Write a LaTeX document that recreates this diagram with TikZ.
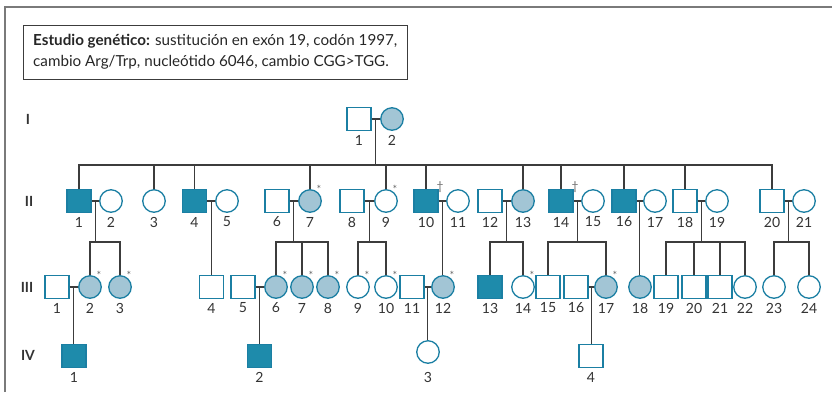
\documentclass[tikz,border=0pt]{standalone}
\usepackage{fontspec}
\setmainfont{Lato}
\usetikzlibrary{calc}
\definecolor{symc}{HTML}{1B7FA3}
\definecolor{affc}{HTML}{1E8BAB}
\definecolor{carc}{HTML}{A2C5D5}
\definecolor{linec}{HTML}{3C3C3C}
\definecolor{numc}{HTML}{333333}
\definecolor{framec}{HTML}{7A7A7A}
\tikzset{
  sym/.style={draw=symc, line width=1.3pt, inner sep=0pt, fill=white},
  msym/.style={sym, rectangle, minimum width=24pt, minimum height=23pt},
  fsym/.style={sym, circle, minimum size=22.5pt},
  aff/.style={fill=affc},
  car/.style={fill=carc},
  num/.style={font=\fontsize{14}{14}\selectfont, text=numc, inner sep=0pt},
  gen/.style={font=\fontsize{14}{14}\selectfont\bfseries, text=numc, inner sep=0pt},
  ast/.style={font=\fontsize{11}{11}\selectfont, text=black!60, inner sep=0pt},
  dag/.style={font=\fontsize{12}{12}\selectfont, text=black!60, inner sep=0pt},
  ln/.style={draw=linec, line width=1.2pt},
}
\newcommand\Mper[5]{\node[msym,#2] (#1) at (#3,#4) {}; \node[num] (#1n) at (#3,#4+21) {#5};}
\newcommand\Fper[5]{\node[fsym,#2] (#1) at (#3,#4) {}; \node[num] (#1n) at (#3,#4+21) {#5};}
\newcommand\Ast[1]{\node[ast] (#1a) at ($(#1.center)+(9,-12)$) {*};}
\newcommand\Dag[1]{\node[dag] (#1d) at ($(#1.center)+(14,-14)$) {\textdagger};}
\newcommand\Mar[3]{\draw[ln] (#2.east) -- (#3.west); \coordinate (#1) at ($(#2.east)!0.5!(#3.west)$);}
\begin{document}
\begin{tikzpicture}[x=1pt,y=-1pt]
\useasboundingbox (0,0) rectangle (832,392);
% frame
\coordinate (fa) at (5,392);
\coordinate (fb) at (5,7);
\coordinate (fc) at (833,7);
\draw[draw=framec, line width=1.5pt] (fa) -- (fb) -- (fc);
% header
\node[draw=linec, line width=1.2pt, minimum width=384pt, minimum height=54pt, anchor=north west, inner sep=0pt] (hdr) at (23,25) {};
\node[anchor=west, align=left, inner sep=0pt, font=\fontsize{15.2}{21}\selectfont, text=black!85] (hdrtxt) at (33,52)
  {\textbf{Estudio genético:} sustitución en exón 19, codón 1997,\\cambio Arg/Trp, nucleótido 6046, cambio CGG>TGG.};
% generation labels
\node[gen] (gI) at (28,119) {I};
\node[gen] (gII) at (29,201) {II};
\node[gen] (gIII) at (27,287) {III};
\node[gen] (gIV) at (28,355) {IV};
% Generation I
\Mper{I1}{}{359}{119}{1}
\Fper{I2}{car}{392}{119}{2}
% Generation II
\Mper{II1}{aff}{79}{201}{1}
\Fper{II2}{}{111}{201}{2}
\Fper{II3}{}{154}{201}{3}
\Mper{II4}{aff}{194.5}{201}{4}
\Fper{II5}{}{227}{201}{5}
\Mper{II6}{}{277}{201}{6}
\Fper{II7}{car}{310}{201}{7}
\Mper{II8}{}{352}{201}{8}
\Fper{II9}{}{386}{201}{9}
\Mper{II10}{aff}{426}{201}{10}
\Fper{II11}{}{458}{201}{11}
\Mper{II12}{}{490}{201}{12}
\Fper{II13}{car}{523}{201}{13}
\Mper{II14}{aff}{561}{201}{14}
\Fper{II15}{}{593}{201}{15}
\Mper{II16}{aff}{624}{201}{16}
\Fper{II17}{}{655}{201}{17}
\Mper{II18}{}{685}{201}{18}
\Fper{II19}{}{717}{201}{19}
\Mper{II20}{}{772}{201}{20}
\Fper{II21}{}{804}{201}{21}
\Ast{II7}\Ast{II9}\Dag{II10}\Dag{II14}
% Generation III
\Mper{III1}{}{57}{287}{1}
\Fper{III2}{car}{90}{287}{2}
\Fper{III3}{car}{120}{287}{3}
\Mper{III4}{}{211.5}{287}{4}
\Mper{III5}{}{243}{287}{5}
\Fper{III6}{car}{276}{287}{6}
\Fper{III7}{car}{302}{287}{7}
\Fper{III8}{car}{328}{287}{8}
\Fper{III9}{}{358}{287}{9}
\Fper{III10}{}{386}{287}{10}
\Mper{III11}{}{412}{287}{11}
\Fper{III12}{car}{443}{287}{12}
\Mper{III13}{aff}{490}{287}{13}
\Fper{III14}{}{523}{287}{14}
\Mper{III15}{}{548}{287}{15}
\Mper{III16}{}{576}{287}{16}
\Fper{III17}{car}{606}{287}{17}
\Fper{III18}{car}{640}{287}{18}
\Mper{III19}{}{666}{287}{19}
\Mper{III20}{}{694}{287}{20}
\Mper{III21}{}{720}{287}{21}
\Fper{III22}{}{745}{287}{22}
\Fper{III23}{}{774}{287}{23}
\Fper{III24}{}{809}{287}{24}
\Ast{III2}\Ast{III3}\Ast{III6}\Ast{III7}\Ast{III8}\Ast{III9}\Ast{III10}\Ast{III12}\Ast{III14}\Ast{III17}
% Generation IV
\Mper{IV1}{aff}{74}{356}{1}
\Mper{IV2}{aff}{259.5}{356}{2}
\node[fsym] (IV3) at (428,352) {};
\node[num] (IV3n) at (428,377) {3};
\Mper{IV4}{}{591}{356}{4}
% sibship levels
\coordinate (sII) at (0,165);
\coordinate (sIII) at (0,242);
% Gen I couple and children
\Mar{mI}{I1}{I2}
\draw[ln] (mI) -- (mI |- sII);
\draw[ln] (II1.north) |- (II20.north |- sII) -- (II20.north);
\foreach \n in {II3,II4,II7,II9,II10,II13,II14,II16,II18}
  \draw[ln] (\n.north) -- (\n.north |- sII);
% Gen II couples
\Mar{m12}{II1}{II2}
\Mar{m45}{II4}{II5}
\Mar{m67}{II6}{II7}
\Mar{m89}{II8}{II9}
\Mar{m1011}{II10}{II11}
\Mar{m1213}{II12}{II13}
\Mar{m1415}{II14}{II15}
\Mar{m1617}{II16}{II17}
\Mar{m1819}{II18}{II19}
\Mar{m2021}{II20}{II21}
% descents to gen III
\draw[ln] (m12) -- (m12 |- sIII);
\draw[ln] (III2.north) |- (III3.north |- sIII) -- (III3.north);
\draw[ln] (m45) -- (m45 |- III4.north);
\draw[ln] (m67) -- (m67 |- sIII);
\draw[ln] (III6.north) |- (III8.north |- sIII) -- (III8.north);
\draw[ln] (III7.north) -- (III7.north |- sIII);
\draw[ln] (m89) -- (m89 |- sIII);
\draw[ln] (III9.north) |- (III10.north |- sIII) -- (III10.north);
\draw[ln] (m1011) -- (m1011 |- III12.north);
\draw[ln] (m1213) -- (m1213 |- sIII);
\draw[ln] (III13.north) |- (III14.north |- sIII) -- (III14.north);
\draw[ln] (m1415) -- (m1415 |- sIII);
\draw[ln] (III15.north) |- (III17.north |- sIII) -- (III17.north);
\draw[ln] (m1617) -- (m1617 |- III18.north);
\draw[ln] (m1819) -- (m1819 |- sIII);
\draw[ln] (III19.north) |- (III22.north |- sIII) -- (III22.north);
\draw[ln] (III20.north) -- (III20.north |- sIII);
\draw[ln] (III21.north) -- (III21.north |- sIII);
\draw[ln] (m2021) -- (m2021 |- sIII);
\draw[ln] (III23.north) |- (III24.north |- sIII) -- (III24.north);
% Gen III couples
\Mar{n12}{III1}{III2}
\Mar{n56}{III5}{III6}
\Mar{n1112}{III11}{III12}
\Mar{n1617}{III16}{III17}
\draw[ln] (n12) -- (n12 |- IV1.north);
\draw[ln] (n56) -- (n56 |- IV2.north);
\draw[ln] (n1112) -- (n1112 |- IV3.north);
\draw[ln] (n1617) -- (n1617 |- IV4.north);
\end{tikzpicture}
\end{document}
